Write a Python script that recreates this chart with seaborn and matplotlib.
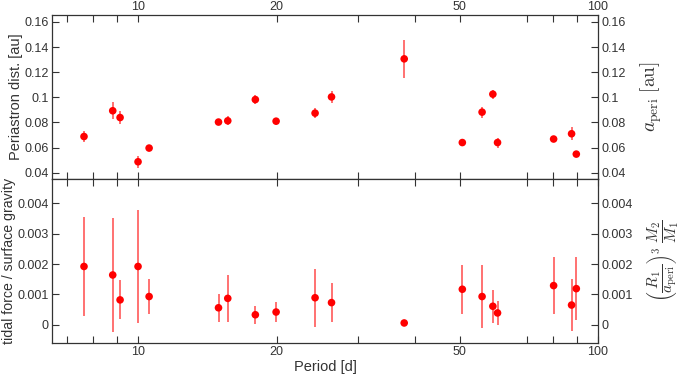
import numpy as np
import pandas as pd
import seaborn as sns
import matplotlib
matplotlib.use("Agg")
import matplotlib.pyplot as plt

# values
period = [7.63, 8.81, 9.14, 10.0, 10.57, 14.96, 15.67, 17.99, 19.96, 24.26, 26.34,
          37.9, 50.7, 55.97, 59.07, 60.47, 80.07, 87.6, 89.7]
a_peri = [0.0688, 0.0893, 0.0839, 0.0487, 0.0596, 0.0803, 0.0813, 0.0982, 0.0810, 0.0874, 0.1003,
          0.1306, 0.0640, 0.0882, 0.1025, 0.0640, 0.0668, 0.0710, 0.0548]
a_err = [0.0045, 0.0068, 0.0050, 0.0048, 0.0015, 0.0025, 0.0035, 0.0035, 0.0025, 0.0037, 0.0045,
         0.0152, 0.0012, 0.0043, 0.0035, 0.0040, 0.0012, 0.0050, 0.0015]
tidal = [0.00192, 0.00164, 0.00082, 0.00192, 0.00093, 0.00056, 0.00087, 0.00033, 0.00042, 0.00089, 0.00073,
         0.00006, 0.00117, 0.00093, 0.00061, 0.00039, 0.00129, 0.00065, 0.00119]
tidal_err = [0.00163, 0.00188, 0.00064, 0.00186, 0.00058, 0.00047, 0.00077, 0.00029, 0.00032, 0.00095, 0.00063,
             0.00002, 0.00081, 0.00103, 0.00054, 0.00040, 0.00093, 0.00086, 0.00103]

xticks = [7, 8, 9, 10, 20, 30, 40, 50, 70, 80, 90, 100]
xticklabels = ["", "", "", "10", "20", "", "", "50", "", "", "", "100"]
top_yticks = [0.04, 0.06, 0.08, 0.1, 0.12, 0.14, 0.16]
top_ylabels = ["0.04", "0.06", "0.08", "0.1", "0.12", "0.14", "0.16"]
bot_yticks = [0, 0.001, 0.002, 0.003, 0.004]
bot_ylabels = ["0", "0.001", "0.002", "0.003", "0.004"]

df = pd.DataFrame({"period": period, "a": a_peri, "a_err": a_err,
                   "tidal": tidal, "tidal_err": tidal_err})

sns.set_style("ticks")
plt.rcParams["font.family"] = ["Liberation Sans", "DejaVu Sans"]
plt.rcParams["mathtext.fontset"] = "cm"
grey = "#333333"
plt.rcParams["text.color"] = grey
plt.rcParams["axes.labelcolor"] = grey
plt.rcParams["xtick.color"] = grey
plt.rcParams["ytick.color"] = grey
plt.rcParams["axes.edgecolor"] = grey

fig = plt.figure(figsize=(6.94, 3.75), dpi=100)
ax1 = fig.add_axes([0.0749, 0.5227, 0.7868, 0.4373])
ax2 = fig.add_axes([0.0749, 0.0853, 0.7868, 0.4374], sharex=ax1)

def panel(ax, col, ecol, ylim, yticks, ylabels, left_label, lsize, right_label, rx, rsize):
    ax.errorbar(df["period"], df[col], yerr=df[ecol], fmt="none",
                ecolor=(1, 0, 0, 0.6), elinewidth=1.3, capsize=0)
    sns.scatterplot(data=df, x="period", y=col, ax=ax, color="#ff0000",
                    s=30, edgecolor="none", zorder=3)
    ax.set_xscale("log")
    ax.set_xlim(6.5, 100)
    ax.set_ylim(*ylim)
    ax.set_xticks(xticks)
    ax.xaxis.set_minor_locator(matplotlib.ticker.NullLocator())
    ax.set_yticks(yticks)
    ax.set_yticklabels(ylabels)
    ax.set_ylabel(left_label, fontsize=lsize, labelpad=0.5)
    ax.set_xlabel("")
    ax.tick_params(direction="in", length=5, width=0.8, labelsize=9, pad=2.5,
                   top=True, right=True, labelright=True)
    for s in ax.spines.values():
        s.set_linewidth(0.9)
    ax.text(rx, 0.5, right_label, transform=ax.transAxes, rotation=90,
            ha="left", va="center", fontsize=rsize, color=grey)

panel(ax1, "a", "a_err", (0.035, 0.1655), top_yticks, top_ylabels,
      "Periastron dist. [au]", 10.5, r"$a_{\rm peri}\ [{\rm au}]$", 1.075, 14)
panel(ax2, "tidal", "tidal_err", (-0.0006, 0.0048), bot_yticks, bot_ylabels,
      "tidal force / surface gravity", 10.2,
      r"$\left(\dfrac{R_1}{a_{\rm peri}}\right)^3\ \dfrac{M_2}{M_1}$", 1.086, 11)

ax1.set_xticklabels(xticklabels)
ax1.tick_params(axis="x", labeltop=True, labelbottom=False, pad=1.5)
ax2.tick_params(axis="x", labeltop=False, labelbottom=True, pad=2.5)
ax2.set_xlabel("Period [d]", fontsize=10.5, labelpad=1)

fig.savefig("out.png", dpi=100)
